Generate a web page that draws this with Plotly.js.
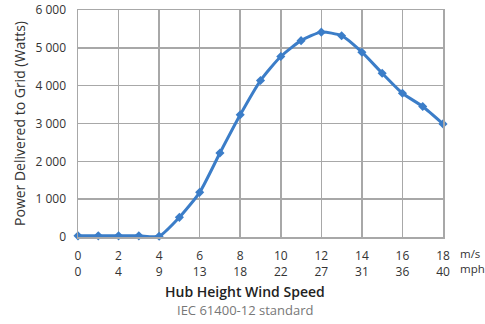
<!DOCTYPE html>
<html>
<head>
<meta charset="utf-8">
<script src="https://cdn.plot.ly/plotly-3.0.1.min.js"></script>
<style>html,body{margin:0;padding:0;background:#fff;}#chart{width:485px;height:324px;}</style>
</head>
<body>
<div id="chart"></div>
<script>
const windMs = [0,1,2,3,4,5,6,7,8,9,10,11,12,13,14,15,16,17,18];
const powerW = [30,30,30,30,20,520,1180,2220,3230,4135,4770,5190,5415,5320,4885,4330,3800,3450,2990];
const xTickVals = [0,2,4,6,8,10,12,14,16,18];
const xTickMph = [0,4,9,13,18,22,27,31,36,40];
const yTickVals = [0,1000,2000,3000,4000,5000,6000];
const yTickText = ['0','1 000','2 000','3 000','4 000','5 000','6 000'];

const fontFam = 'Open Sans, Noto Sans, sans-serif';
const gridCol = '#a8a8a8';

const trace = {
  x: windMs, y: powerW, type: 'scatter', mode: 'lines+markers',
  line: {color: '#3b7dc8', width: 3, shape: 'spline', smoothing: 0.6},
  marker: {symbol: 'diamond', size: 7, color: '#3b7dc8'},
  cliponaxis: false, hoverinfo: 'none'
};

const layout = {
  width: 485, height: 324,
  margin: {l: 78, r: 42, t: 10, b: 87},
  paper_bgcolor: '#fff', plot_bgcolor: '#fff',
  showlegend: false,
  font: {family: fontFam, size: 12, color: '#333'},
  xaxis: {
    range: [0, 18], tickvals: xTickVals,
    ticktext: xTickVals.map((v, i) => v + '<br>' + xTickMph[i]),
    showgrid: true, gridcolor: gridCol, gridwidth: 1.5,
    showline: true, mirror: true, linecolor: gridCol, linewidth: 1.5,
    zeroline: false, ticks: '', ticklabelstandoff: 7,
    tickfont: {size: 12, color: '#333'}
  },
  yaxis: {
    range: [0, 6000], tickvals: yTickVals, ticktext: yTickText,
    showgrid: true, gridcolor: gridCol, gridwidth: 1.5,
    showline: true, mirror: true, linecolor: gridCol, linewidth: 1.5,
    zeroline: false, ticks: '', ticklabelstandoff: 8,
    tickfont: {size: 12, color: '#333'},
    title: {text: 'Power Delivered to Grid (Watts)', font: {size: 14, color: '#333'}, standoff: 6}
  },
  annotations: [
    {xref: 'paper', yref: 'paper', x: 1.04, y: -0.105, xanchor: 'left', yanchor: 'middle', align: 'left', text: 'm/s<br>mph', showarrow: false, font: {size: 11.5, color: '#333'}},
    {xref: 'paper', yref: 'paper', x: 0.457, y: -0.24, xanchor: 'center', yanchor: 'middle', text: 'Hub Height Wind Speed', showarrow: false, font: {size: 14, color: '#222', weight: 600}},
    {xref: 'paper', yref: 'paper', x: 0.457, y: -0.32, xanchor: 'center', yanchor: 'middle', text: 'IEC 61400-12 standard', showarrow: false, font: {size: 13, color: '#777'}}
  ]
};

Plotly.newPlot('chart', [trace], layout, {displayModeBar: false, staticPlot: true});
</script>
</body>
</html>
